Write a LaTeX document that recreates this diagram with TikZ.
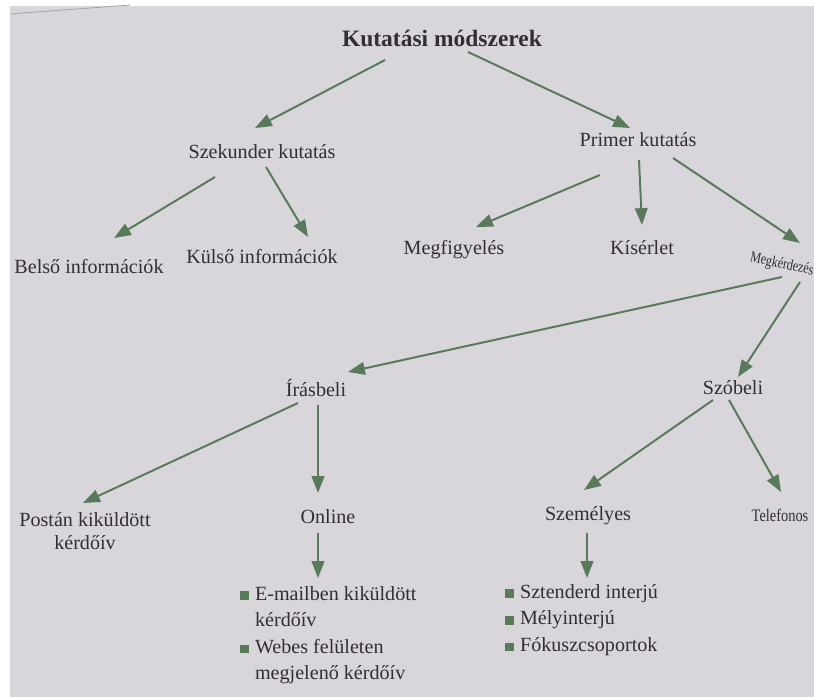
\documentclass[tikz,border=0pt]{standalone}
\usepackage{fontspec}
\setmainfont{Liberation Serif}
\usetikzlibrary{arrows.meta,calc}

\definecolor{paper}{RGB}{216,213,219}
\definecolor{arrgreen}{RGB}{88,122,90}
\definecolor{ink}{RGB}{52,46,52}
\newcommand{\sqbul}{\textcolor{arrgreen}{\rule{0.22cm}{0.22cm}}\hspace{0.15cm}}

\begin{document}
\begin{tikzpicture}[x=0.025cm, y=-0.025cm,
        lbl/.style={text=ink, inner sep=0pt, font=\fontsize{14.3}{18.9}\selectfont},
        arr/.style={arrgreen, line width=1.4pt, -{Triangle[length=12pt,width=9pt]}}]
        \useasboundingbox (0,0) rectangle (814,697);
        \fill[white] (0,0) rectangle (814,697);
        \fill[paper] (10,6) rectangle (814,697);
        \draw[gray!70, line width=0.6pt] (10,14) -- (130,5);

        \node[lbl, font=\fontsize{16.7}{20}\selectfont\bfseries] (kut) at (442, 38) {Kutatási módszerek};
        \node[lbl] (szek) at (262, 152) {Szekunder kutatás};
        \node[lbl] (prim) at (638, 140) {Primer kutatás};
        \node[lbl] (belso) at (89, 267) {Belső információk};
        \node[lbl] (kulso) at (262, 257) {Külső információk};
        \node[lbl] (megf) at (454, 250) {Megfigyelés};
        \node[lbl] (kis) at (642, 248) {Kísérlet};
        \node[lbl, font=\fontsize{11}{13}\selectfont, anchor=west, rotate=-12] (megk) at (750, 258) {\scalebox{0.78}[1]{Megkérdezés}};
        \node[lbl] (iras) at (316, 388) {Írásbeli};
        \node[lbl] (szob) at (733, 388) {Szóbeli};
        \node[lbl, align=center, font=\fontsize{14.3}{16.5}\selectfont] (postan) at (85, 531) {Postán kiküldött\\kérdőív};
        \node[lbl] (online) at (328, 517) {Online};
        \node[lbl] (szem) at (588, 516) {Személyes};
        \node[lbl, font=\fontsize{12.5}{14}\selectfont] (tel) at (780, 515) {\scalebox{0.82}[1]{Telefonos}};
        \node[lbl, anchor=north west, align=left] (onlist) at (240, 586)
            {\sqbul E-mailben kiküldött\\\hspace*{0.37cm}kérdőív\\\sqbul Webes felületen\\\hspace*{0.37cm}megjelenő kérdőív};
        \node[lbl, anchor=north west, align=left] (szemlist) at (505, 584)
            {\sqbul Sztenderd interjú\\\sqbul Mélyinterjú\\\sqbul Fókuszcsoportok};

        \draw[arr] ($(kut)+(-57,22)$) -- ($(szek)+(-7,-24)$);
        \draw[arr] ($(kut)+(26,14)$) -- ($(prim)+(-8,-12)$);
        \draw[arr] ($(szek)+(-47,25)$) -- ($(belso)+(25,-29)$);
        \draw[arr] ($(szek)+(4,15)$) -- ($(kulso)+(46,-20)$);
        \draw[arr] ($(prim)+(-38,35)$) -- ($(megf)+(22,-23)$);
        \draw[arr] ($(prim)+(1,20)$) -- ($(kis)+(0,-23)$);
        \draw[arr] ($(prim)+(35,18)$) -- ($(megk.west)+(50,-15)$);
        \draw[arr] ($(megk.west)+(32,19)$) -- ($(iras)+(32,-16)$);
        \draw[arr] ($(megk.west)+(50,24)$) -- ($(szob)+(5,-11)$);
        \draw[arr] ($(iras)+(-18,15)$) -- ($(postan)+(-2,-28)$);
        \draw[arr] ($(iras)+(2,17)$) -- ($(online)+(-10,-24)$);
        \draw[arr] ($(szob)+(-20,12)$) -- ($(szem)+(-4,-26)$);
        \draw[arr] ($(szob)+(-4,12)$) -- ($(tel)+(1,-23)$);
        \draw[arr] ($(online)+(-10,16)$) -- ($(onlist.north west)+(78,-8)$);
        \draw[arr] ($(szem)+(-1,17)$) -- ($(szemlist.north west)+(82,-6)$);

    \end{tikzpicture}
\end{document}
